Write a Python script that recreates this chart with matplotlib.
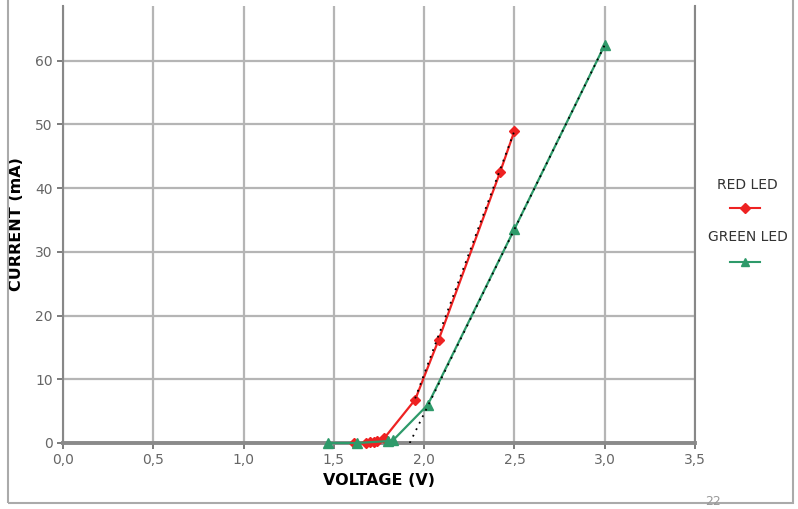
import matplotlib.pyplot as plt
from matplotlib.lines import Line2D
from matplotlib.patches import Rectangle

# measured points
red_v = [1.61, 1.68, 1.70, 1.72, 1.74, 1.78, 1.95, 2.08, 2.42, 2.50]
red_i = [0, 0, 0.1, 0.2, 0.3, 0.8, 6.8, 16.2, 42.5, 49.0]
green_v = [1.47, 1.63, 1.80, 1.83, 2.02, 2.50, 3.00]
green_i = [0, 0, 0.3, 0.5, 6.0, 33.6, 62.5]

# dotted tangent lines
red_fit_v = [1.95, 2.50]
red_fit_i = [7.0, 49.0]
green_fit_v = [1.92, 3.00]
green_fit_i = [0, 62.5]

xticks = [0, 0.5, 1.0, 1.5, 2.0, 2.5, 3.0, 3.5]
xlabels = ["0,0", "0,5", "1,0", "1,5", "2,0", "2,5", "3,0", "3,5"]
yticks = [0, 10, 20, 30, 40, 50, 60]

red = "#ee2222"
green = "#2e9a6a"
grey = "#666666"

fig = plt.figure(figsize=(7.98, 5.09), dpi=100)
ax = fig.add_axes([0.079, 0.1297, 0.792, 0.8585])

ax.set_xlim(0, 3.5)
ax.set_ylim(0, 68.6)
ax.set_xticks(xticks)
ax.set_xticklabels(xlabels)
ax.set_yticks(yticks)
ax.grid(True, color="#b5b5b5", lw=1.6)
ax.set_axisbelow(True)
ax.tick_params(colors=grey, labelsize=10, length=4, width=1.2)

for s in ["left", "right"]:
    ax.spines[s].set_color("#888888")
    ax.spines[s].set_linewidth(1.5)
ax.spines["bottom"].set_color("#8a8a8a")
ax.spines["bottom"].set_linewidth(2.8)
ax.spines["top"].set_visible(False)

ax.plot(red_fit_v, red_fit_i, color="black", lw=1.3, ls=(0, (1, 3)), zorder=4)
ax.plot(green_fit_v, green_fit_i, color="black", lw=1.3, ls=(0, (1, 3)), zorder=4)
ax.plot(red_v, red_i, color=red, lw=1.6, marker="D", ms=5, clip_on=False, zorder=3)
ax.plot(green_v, green_i, color=green, lw=1.6, marker="^", ms=7, clip_on=False, zorder=3)

ax.set_xlabel("VOLTAGE (V)", fontsize=11.5, fontweight="bold", labelpad=4)
ax.set_ylabel("CURRENT (mA)", fontsize=11.5, fontweight="bold", labelpad=8)

# legend on the right
fig.text(0.937, 0.637, "RED LED", ha="center", va="center", fontsize=10, color="#333333")
fig.add_artist(Line2D([0.915, 0.953], [0.591, 0.591], color=red, lw=1.5,
                      transform=fig.transFigure))
fig.add_artist(Line2D([0.934], [0.591], color=red, marker="D", ms=5, transform=fig.transFigure))
fig.text(0.937, 0.535, "GREEN LED", ha="center", va="center", fontsize=10, color="#333333")
fig.add_artist(Line2D([0.915, 0.953], [0.485, 0.485], color=green, lw=1.5,
                      transform=fig.transFigure))
fig.add_artist(Line2D([0.934], [0.485], color=green, marker="^", ms=6, transform=fig.transFigure))

# slide frame
fig.add_artist(Rectangle((0.010, 0.012), 0.984, 1.1, transform=fig.transFigure,
                         fill=False, edgecolor="#aaaaaa", lw=1.5))
fig.text(0.893, 0.001, "22", ha="center", va="bottom", fontsize=9, color="#999999")

fig.savefig("out.png", dpi=100)
